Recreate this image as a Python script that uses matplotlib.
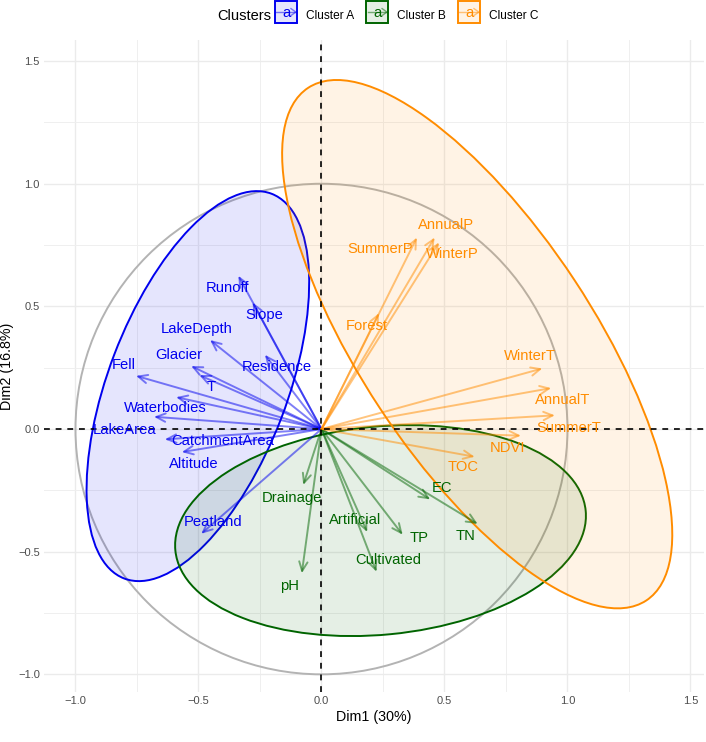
import numpy as np
import matplotlib
matplotlib.use('Agg')
import matplotlib.pyplot as plt
from matplotlib.legend_handler import HandlerBase
from matplotlib.lines import Line2D
from matplotlib.patches import Circle, Ellipse, Patch, Rectangle
from matplotlib.text import Text

plt.rcParams['font.family'] = ['Liberation Sans', 'DejaVu Sans']

# Variable names, arrow tips and label centres for each cluster
names_a = ['Runoff', 'Slope', 'LakeDepth', 'Residence', 'Glacier', 'T', 'Fell', 'Waterbodies',
           'LakeArea', 'CatchmentArea', 'Altitude', 'Peatland']
dim1_a = [-0.338, -0.280, -0.453, -0.230, -0.530, -0.497, -0.754, -0.591, -0.681, -0.637, -0.568, -0.489]
dim2_a = [0.625, 0.516, 0.363, 0.303, 0.257, 0.220, 0.217, 0.130, 0.050, -0.042, -0.094, -0.427]
label_x_a = [-0.383, -0.231, -0.506, -0.181, -0.579, -0.450, -0.803, -0.633, -0.799, -0.400, -0.520, -0.441]
label_y_a = [0.575, 0.465, 0.407, 0.253, 0.302, 0.172, 0.261, 0.086, -0.004, -0.049, -0.143, -0.379]

names_b = ['Drainage', 'pH', 'Artificial', 'Cultivated', 'TP', 'EC', 'TN']
dim1_b = [-0.074, -0.080, 0.186, 0.224, 0.330, 0.442, 0.635]
dim2_b = [-0.228, -0.588, -0.420, -0.582, -0.431, -0.287, -0.387]
label_x_b = [-0.121, -0.128, 0.135, 0.271, 0.395, 0.488, 0.585]
label_y_b = [-0.280, -0.640, -0.372, -0.534, -0.445, -0.242, -0.435]

names_c = ['SummerP', 'AnnualP', 'WinterP', 'Forest', 'WinterT', 'AnnualT', 'SummerT', 'NDVI', 'TOC']
dim1_c = [0.388, 0.460, 0.478, 0.234, 0.898, 0.934, 0.949, 0.811, 0.623]
dim2_c = [0.781, 0.781, 0.761, 0.473, 0.247, 0.167, 0.056, -0.027, -0.113]
label_x_c = [0.238, 0.506, 0.530, 0.184, 0.848, 0.980, 1.007, 0.758, 0.574]
label_y_c = [0.733, 0.833, 0.712, 0.421, 0.296, 0.118, 0.004, -0.077, -0.156]

# Ellipse centre, half extents along each dim and correlation
ellipse_a = (-0.5025, 0.175, 0.4525, 0.795, 0.53)
ellipse_b = (0.24, -0.414, 0.835, 0.43, 0.14)
ellipse_c = (0.633, 0.346, 0.793, 1.077, -0.72)

blue = '#0000EE'
green = '#006400'
orange = '#FF8C00'
ticks = [-1.0, -0.5, 0.0, 0.5, 1.0, 1.5]
minor_ticks = [-0.75, -0.25, 0.25, 0.75, 1.25]


# Draw a confidence style ellipse from its covariance
def add_ellipse(ax, params, colour):
    cx, cy, sx, sy, r = params
    cov = np.array([[sx**2, r*sx*sy], [r*sx*sy, sy**2]])
    vals, vecs = np.linalg.eigh(cov)
    angle = np.degrees(np.arctan2(vecs[1, 1], vecs[0, 1]))
    ax.add_patch(Ellipse((cx, cy), 2*np.sqrt(vals[1]), 2*np.sqrt(vals[0]), angle=angle,
                         facecolor=matplotlib.colors.to_rgba(colour, 0.1), edgecolor=colour, lw=1.4, zorder=2))


# Arrows from the origin plus their text labels
def add_arrows(ax, names, xs, ys, lx, ly, colour):
    for name, x, y, tx, ty in zip(names, xs, ys, lx, ly):
        ax.annotate('', xy=(x, y), xytext=(0, 0), zorder=3,
                    arrowprops=dict(arrowstyle='->,head_length=0.55,head_width=0.25', color=colour, alpha=0.5,
                                    lw=1.4, shrinkA=0, shrinkB=0, mutation_scale=12))
        ax.text(tx, ty, name, color=colour, fontsize=10.6, ha='center', va='center', zorder=5)


# Legend key: box, small arrow and the letter a
class ArrowKey(HandlerBase):
    def create_artists(self, legend, orig_handle, xdescent, ydescent, width, height, fontsize, trans):
        colour = orig_handle.get_edgecolor()
        box = Rectangle((0, -3), 16, 16, facecolor=matplotlib.colors.to_rgba(colour[:3], 0.1),
                        edgecolor=colour[:3], lw=1.4, transform=trans)
        line = Line2D([1, 15], [5, 5], color=colour[:3], alpha=0.5, lw=1.0, transform=trans)
        head = Line2D([11.5, 15, 11.5], [7.5, 5, 2.5], color=colour[:3], alpha=0.5, lw=1.0, transform=trans)
        letter = Text(8, 4.5, 'a', color=colour[:3], fontsize=10.6, ha='center', va='center', transform=trans)
        return [box, line, head, letter]


fig = plt.figure(figsize=(7.06, 7.42), dpi=100)
ax = fig.add_axes([44/706, 1 - 692/742, 660/706, 652/742])
ax.set_xlim(-1.128, 1.555)
ax.set_ylim(-1.072, 1.586)

for side in ax.spines.values():
    side.set_visible(False)
ax.set_axisbelow(True)
ax.set_xticks(ticks)
ax.set_yticks(ticks)
ax.set_xticks(minor_ticks, minor=True)
ax.set_yticks(minor_ticks, minor=True)
ax.grid(which='major', color='#EBEBEB', lw=1.0)
ax.grid(which='minor', color='#EFEFEF', lw=0.7)
ax.tick_params(which='both', length=0)
ax.tick_params(labelsize=8, labelcolor='#4D4D4D', pad=3)
ax.set_xlabel('Dim1 (30%)', fontsize=10.3, labelpad=3)
ax.set_ylabel('Dim2 (16.8%)', fontsize=10.3, labelpad=3)

ax.add_patch(Circle((0, 0), 1, fill=False, edgecolor='#B3B3B3', lw=1.4, zorder=2))
add_ellipse(ax, ellipse_a, blue)
add_ellipse(ax, ellipse_b, green)
add_ellipse(ax, ellipse_c, orange)

ax.axhline(0, color='black', ls=(0, (3.5, 3.5)), lw=1.2, zorder=4)
ax.axvline(0, color='black', ls=(0, (3.5, 3.5)), lw=1.2, zorder=4)

add_arrows(ax, names_a, dim1_a, dim2_a, label_x_a, label_y_a, blue)
add_arrows(ax, names_b, dim1_b, dim2_b, label_x_b, label_y_b, green)
add_arrows(ax, names_c, dim1_c, dim2_c, label_x_c, label_y_c, orange)

handles = [Patch(edgecolor=c, label=n) for c, n in
           zip([blue, green, orange], ['Cluster A', 'Cluster B', 'Cluster C'])]
fig.text(217/706, 1 - 16/742, 'Clusters', fontsize=10.5, ha='left', va='center')
fig.legend(handles=handles, handler_map={Patch: ArrowKey()}, ncol=3, frameon=False, fontsize=8.6,
           loc='center left', bbox_to_anchor=(275/706, 1 - 16/742), handlelength=1.6, handletextpad=1.0,
           columnspacing=1.0, borderpad=0, borderaxespad=0)

fig.savefig('out.png', dpi=100)
